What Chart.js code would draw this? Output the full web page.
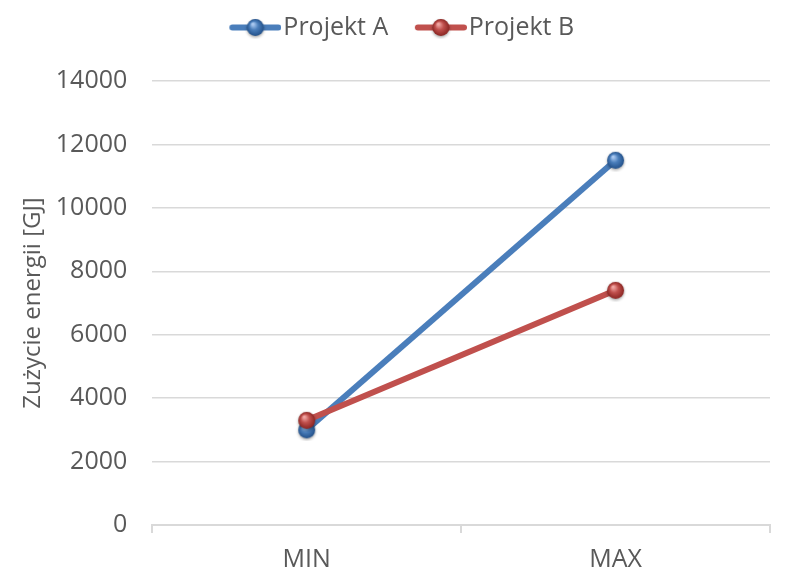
<!DOCTYPE html>
<html>
<head>
<meta charset="utf-8">
<script src="https://cdn.jsdelivr.net/npm/chart.js@4.4.1/dist/chart.umd.min.js"></script>
<style>
  html, body { margin: 0; padding: 0; overflow: hidden; background: #ffffff; }
  canvas { display: block; }
</style>
</head>
<body>
<canvas id="chart" width="785" height="570"></canvas>
<script>
// Energy use per project, minimum and maximum case
const categories = ['MIN', 'MAX'];
const seriesNames = ['Projekt A', 'Projekt B'];
const projektA = [3000, 11500];
const projektB = [3300, 7400];
const yMin = 0;
const yMax = 14000;
const yStep = 2000;
const yTitle = 'Zużycie energii [GJ]';

const FONT = "'Open Sans', 'DejaVu Sans', sans-serif";
const TEXT = '#595959';
const GRID = '#d9d9d9';
const BLUE = { line: '#4a7ebb', light: '#a9c8f0', mid: '#4a7ebb', dark: '#23518a' };
const RED  = { line: '#c0504d', light: '#f0a5a2', mid: '#c0504d', dark: '#8a2522' };

// The plot runs on past the right edge of the canvas
const OVERFLOW_RIGHT = 15;

// Glossy sphere marker; with lineLen it also gets a line segment behind it
// and a transparent left margin (used for the legend symbol)
function marker(c, radius, lineLen, lineW, leftGap) {
  const gap = leftGap || 0;
  const vis = Math.max(lineLen, radius * 2 + 6);
  const w = vis + gap;
  const h = radius * 2 + 6;
  const cv = document.createElement('canvas');
  cv.width = w; cv.height = h;
  const ctx = cv.getContext('2d');
  const cx = gap + vis / 2, cy = h / 2;
  if (lineLen) {
    ctx.strokeStyle = c.line;
    ctx.lineWidth = lineW;
    ctx.lineCap = 'round';
    ctx.beginPath();
    ctx.moveTo(gap + lineW / 2, cy);
    ctx.lineTo(w - lineW / 2, cy);
    ctx.stroke();
  }
  ctx.save();
  ctx.shadowColor = 'rgba(0,0,0,0.35)';
  ctx.shadowBlur = 3;
  ctx.shadowOffsetY = 1.5;
  const g = ctx.createRadialGradient(cx - radius * 0.3, cy - radius * 0.4, radius * 0.1, cx, cy, radius);
  g.addColorStop(0, c.light);
  g.addColorStop(0.45, c.mid);
  g.addColorStop(1, c.dark);
  ctx.fillStyle = g;
  ctx.beginPath();
  ctx.arc(cx, cy, radius, 0, Math.PI * 2);
  ctx.fill();
  ctx.restore();
  return cv;
}

// Extra room between the legend and the plot
const legendGap = {
  id: 'legendGap',
  beforeInit(chart) {
    const fit = chart.legend.fit;
    chart.legend.fit = function () {
      fit.call(this);
      this.height += 31;
    };
  }
};

function draw() {
  const ptA = marker(BLUE, 8.5, 0, 0, 0);
  const ptB = marker(RED, 8.5, 0, 0, 0);
  const legA = marker(BLUE, 8.5, 52, 6, 21);
  const legB = marker(RED, 8.5, 52, 6, 21);

  Chart.defaults.font.family = FONT;
  Chart.defaults.color = TEXT;

  new Chart(document.getElementById('chart'), {
    type: 'line',
    plugins: [legendGap],
    data: {
      labels: categories,
      datasets: [
        {
          label: seriesNames[0],
          data: projektA,
          borderColor: BLUE.line,
          backgroundColor: BLUE.line,
          borderWidth: 6,
          pointStyle: ptA,
          pointRadius: 9,
          order: 1,
          legendImage: legA
        },
        {
          label: seriesNames[1],
          data: projektB,
          borderColor: RED.line,
          backgroundColor: RED.line,
          borderWidth: 6,
          pointStyle: ptB,
          pointRadius: 9,
          order: 0,
          legendImage: legB
        }
      ]
    },
    options: {
      responsive: false,
      animation: false,
      layout: { padding: { left: -7, right: -OVERFLOW_RIGHT, top: -1, bottom: -2 } },
      plugins: {
        tooltip: { enabled: false },
        legend: {
          position: 'top',
          labels: {
            usePointStyle: true,
            pointStyleWidth: 52,
            padding: 16,
            color: TEXT,
            font: { size: 25 },
            generateLabels(chart) {
              return chart.data.datasets.map((ds, i) => ({
                text: ds.label,
                fillStyle: ds.borderColor,
                strokeStyle: ds.borderColor,
                lineWidth: 0,
                pointStyle: ds.legendImage,
                hidden: false,
                datasetIndex: i,
                fontColor: TEXT
              }));
            }
          }
        }
      },
      scales: {
        x: {
          offset: true,
          border: { display: true, color: GRID, width: 2 },
          grid: {
            offset: true,
            drawOnChartArea: false,
            drawTicks: true,
            tickLength: 8,
            color: GRID,
            lineWidth: 2
          },
          ticks: {
            color: TEXT,
            padding: 14,
            font: { size: 25, lineHeight: 1.0 }
          },
          // tick padding is only needed once, between the tick marks and the labels;
          // the category labels sit well inside the axis, so no side padding either
          afterFit(scale) {
            scale.height -= scale.options.ticks.padding;
            scale.paddingLeft = 0;
            scale.paddingRight = -OVERFLOW_RIGHT;
          }
        },
        y: {
          min: yMin,
          max: yMax,
          border: { display: false },
          grid: { color: GRID, lineWidth: 1.5, drawTicks: false },
          ticks: {
            stepSize: yStep,
            color: TEXT,
            padding: 25,
            font: { size: 25 },
            callback: (v) => String(v)
          },
          title: {
            display: true,
            text: yTitle,
            color: TEXT,
            padding: { top: 26, bottom: 8 },
            font: { size: 24 }
          },
          afterFit(scale) {
            scale.width -= scale.options.ticks.padding;
            scale.paddingRight = -OVERFLOW_RIGHT;
          }
        }
      }
    }
  });
}

Promise.all([
  document.fonts.load("25px 'Open Sans'", 'Projekt 0123456789'),
  document.fonts.load("24px 'Open Sans'", 'Zużycie energii [GJ]')
]).then(draw, draw);
</script>
</body>
</html>
